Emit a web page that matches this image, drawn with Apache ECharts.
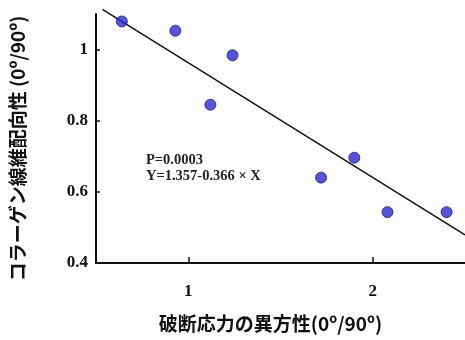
<!DOCTYPE html>
<html><head><meta charset="utf-8">
<script src="https://cdn.jsdelivr.net/npm/echarts@6/dist/echarts.min.js"></script>
<style>html,body{margin:0;padding:0;background:#fff}#c{width:465px;height:340px}</style>
</head><body><div id="c"></div>
<script>
const xValues = [0.64, 0.93, 1.12, 1.24, 1.72, 1.90, 2.08, 2.40];
const yValues = [1.079, 1.053, 0.845, 0.984, 0.640, 0.696, 0.543, 0.543];
const fitX = [0.535, 2.5];
const fitY = [1.113, 0.479];
const xTicks = [1, 2];
const yTicks = [0.4, 0.6, 0.8, 1];
const annotation = ['P=0.0003', 'Y=1.357-0.366 × X'];
const xName = '破断応力の異方性(0º/90º)';
const yName = 'コラーゲン線維配向性 (0º/90º)';

const chart = echarts.init(document.getElementById('c'), null, {renderer: 'canvas'});
const labelStyle = {fontFamily: 'Liberation Serif', fontWeight: 'bold', fontSize: 17, color: '#111'};
const nameStyle = {fontFamily: 'Noto Sans CJK JP', fontWeight: 'bold', fontSize: 19, color: '#111'};
chart.setOption({
  animation: false,
  grid: {left: 96, top: 14, right: -3, bottom: 77},
  xAxis: {
    type: 'value', min: 0.5, max: 2.5,
    axisLine: {lineStyle: {color: '#111', width: 2}},
    axisTick: {inside: true, length: 6, customValues: xTicks, lineStyle: {color: '#111', width: 1.5}},
    splitLine: {show: false},
    axisLabel: Object.assign({margin: 20, customValues: xTicks}, labelStyle),
    name: xName, nameLocation: 'middle', nameGap: 51,
    nameTextStyle: Object.assign({padding: [0, 20, 0, 0]}, nameStyle)
  },
  yAxis: {
    type: 'value', min: 0.4, max: 1.1,
    axisLine: {show: true, lineStyle: {color: '#111', width: 2}},
    axisTick: {show: true, inside: true, length: 4, customValues: yTicks, lineStyle: {color: '#111', width: 1.5}},
    splitLine: {show: false},
    axisLabel: Object.assign({margin: 8, customValues: yTicks}, labelStyle),
    name: yName, nameLocation: 'middle', nameGap: 69, nameRotate: 90,
    nameTextStyle: Object.assign({padding: [0, 0, 0, -20]}, nameStyle)
  },
  series: [
    {type: 'line', data: fitX.map((x, i) => [x, fitY[i]]), symbol: 'none', clip: false,
     lineStyle: {color: '#111', width: 1.5}, z: 2},
    {type: 'scatter', data: xValues.map((x, i) => [x, yValues[i]]), symbolSize: 11,
     itemStyle: {color: '#2b2bd0', borderColor: '#1a1a7a', borderWidth: 1}, z: 3}
  ],
  graphic: [{
    type: 'text', left: 146, top: 152,
    style: {text: annotation.join('\n'), fontFamily: 'Liberation Serif', fontWeight: 'bold',
      fontSize: 14.5, lineHeight: 16, fill: '#222'}
  }]
});
</script></body></html>
